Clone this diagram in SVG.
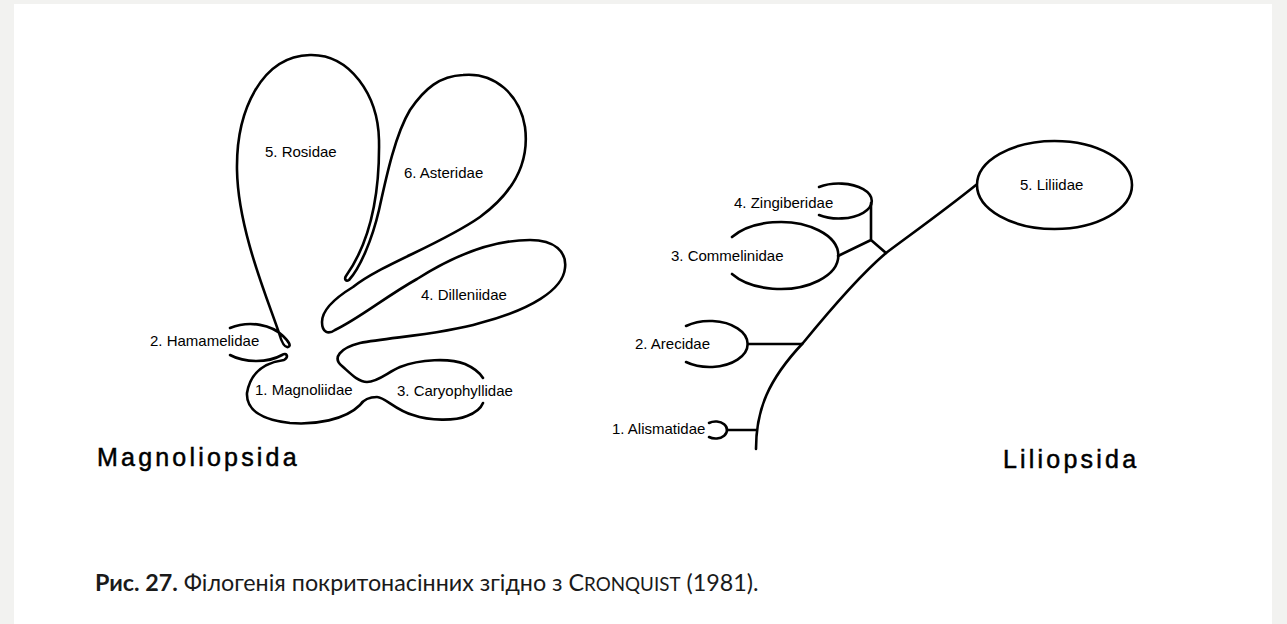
<svg xmlns="http://www.w3.org/2000/svg" width="1287" height="624" viewBox="0 0 1287 624">
<style>
.ln{fill:none;stroke:#000;stroke-width:2.6;stroke-linecap:round;stroke-linejoin:round}
.lb{font-family:"Liberation Sans",Arial,sans-serif;font-size:15px;fill:#000}
.tt{font-family:"Liberation Sans",Arial,sans-serif;font-size:25px;letter-spacing:3.2px;fill:#000;stroke:#000;stroke-width:0.5}
.cap{font-family:Lato,"Open Sans",sans-serif;font-size:23.3px;fill:#1a1a1a}
</style>
<rect width="1287" height="624" fill="#f2f2f0"/>
<rect x="14" y="4" width="1258" height="620" fill="#fff"/>

<g id="magnoliopsida">
<path class="ln" d="M230,328 C250,320 272,325 283,336 C288,341 292,346 288,347 C284,348 281,340 279,333 C268,300 238,230 237,170 C236,110 262,56 310,55 C350,54 378,95 379,140 C380,200 368,245 346,276 C344,279 346,282 349,280 C360,268 372,240 379,210 C386,178 395,135 410,110 C425,88 440,76 463,75 C495,72 520,95 525,127 C530,165 510,195 480,217 C440,245 380,265 353,287 C335,298 322,310 322,322 C322,332 328,335 335,330 C360,318 385,297 417,279 C450,258 490,240 530,240 C555,240 567,252 565,268 C563,290 530,310 480,323 C440,335 390,337 360,343 C340,348 332,358 342,366 C350,373 358,382 367,382 C378,382 388,372 400,367 C420,359 450,358 465,364 C474,368 480,373 483,378"/>
<path class="ln" d="M230,355 C245,363 268,363 282,355 C287,352 289,357 284,360 C262,363 250,375 247,393 C246,410 262,420 290,423 C315,425 345,420 360,405 C364,399 370,397 377,397 C385,397 395,410 413,415 C430,421 455,421 467,416 C475,413 481,408 483,403"/>
</g>
<g id="rosidae"><text class="lb" x="265" y="157">5. Rosidae</text></g>
<g id="asteridae"><text class="lb" x="404" y="178">6. Asteridae</text></g>
<g id="dilleniidae"><text class="lb" x="421" y="300">4. Dilleniidae</text></g>
<g id="hamamelidae"><text class="lb" x="150" y="346">2. Hamamelidae</text></g>
<g id="magnoliidae"><text class="lb" x="255" y="395">1. Magnoliidae</text></g>
<g id="caryophyllidae"><text class="lb" x="397" y="396">3. Caryophyllidae</text></g>
<g id="title-magnoliopsida"><text class="tt" x="97" y="466">Magnoliopsida</text></g>

<g id="connectors">
<path class="ln" d="M756,449 C756,410 768,380 803,343 C830,310 860,275 886,253 C910,235 945,210 976,185"/>
<path class="ln" d="M727,430 H756"/>
<path class="ln" d="M748,344 H802"/>
<path class="ln" d="M871,203 V240 L886,253 M871,240 L838,256"/>
</g>
<g id="liliidae"><ellipse class="ln" cx="1054.5" cy="185" rx="77.5" ry="44"/><text class="lb" x="1020" y="190">5. Liliidae</text></g>
<g id="zingiberidae"><path class="ln" d="M819,187 A33,17.5 0 1 1 819,215"/><text class="lb" x="734" y="208">4. Zingiberidae</text></g>
<g id="commelinidae"><path class="ln" d="M732,237 A58,33.5 0 1 1 732,274"/><text class="lb" x="671" y="261">3. Commelinidae</text></g>
<g id="arecidae"><path class="ln" d="M686,326 A38,23 0 1 1 686,362"/><text class="lb" x="635" y="349">2. Arecidae</text></g>
<g id="alismatidae"><path class="ln" d="M709,423 A11.5,8.5 0 1 1 709,437"/><text class="lb" x="612" y="434">1. Alismatidae</text></g>
<g id="title-liliopsida"><text class="tt" x="1003" y="468">Liliopsida</text></g>

<g id="caption"><text class="cap" x="95" y="591"><tspan font-weight="bold">Рис. 27.</tspan> Філогенія покритонасінних згідно з C<tspan font-size="18.8">RONQUIST</tspan> (1981).</text></g>
</svg>
